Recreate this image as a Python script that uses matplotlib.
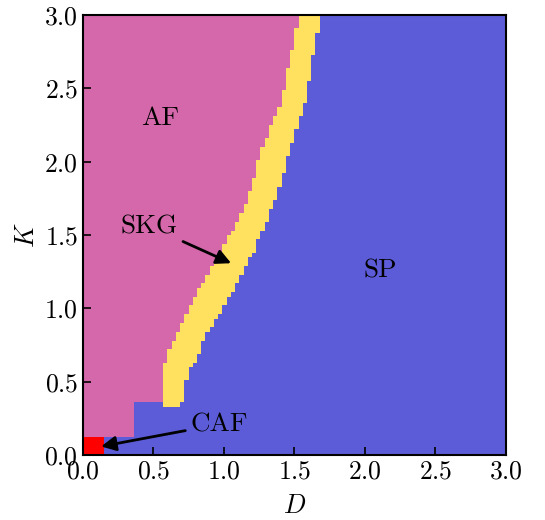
import numpy as np
import matplotlib
matplotlib.use("Agg")
import matplotlib.pyplot as plt
from matplotlib.colors import ListedColormap

plt.rcParams['font.family'] = 'serif'
plt.rcParams['font.serif'] = ['cmr10']
plt.rcParams['mathtext.fontset'] = 'cm'
plt.rcParams['axes.formatter.use_mathtext'] = True

# phase boundaries: K, left edge of SKG, right edge of SKG
K_knots = [0.33, 0.45, 0.56, 0.66, 0.77, 0.90, 1.06, 1.40, 1.74, 2.08, 2.42, 3.00]
D_left = [0.56, 0.56, 0.56, 0.59, 0.64, 0.70, 0.78, 0.99, 1.17, 1.27, 1.41, 1.535]
D_right = [0.70, 0.72, 0.75, 0.81, 0.85, 0.93, 1.03, 1.22, 1.365, 1.47, 1.58, 1.685]
caf_D, caf_K = 0.15, 0.12
block_D, block_K = 0.36, 0.36
phases = ["AF", "SKG", "SP", "CAF"]
colors = ["#d468ab", "#ffe15f", "#5c5cd9", "#ff0000"]

n = 100
edges = np.linspace(0, 3, n + 1)
c = 0.5 * (edges[:-1] + edges[1:])
DD, KK = np.meshgrid(c, c)

left = np.interp(KK, K_knots, D_left)
right = np.interp(KK, K_knots, D_right)
phase = np.full(DD.shape, 2)
phase[(DD < left)] = 0
phase[(DD >= left) & (DD < right) & (KK >= K_knots[0])] = 1
phase[(KK < K_knots[0]) & (DD < block_D)] = 0
phase[(KK < block_K) & (DD >= block_D) & (phase != 1)] = 2
phase[KK < caf_K] = 2
phase[(KK < caf_K) & (DD < caf_D)] = 3

fig, ax = plt.subplots(figsize=(5.45, 5.2), dpi=100)
fig.subplots_adjust(left=0.152, right=0.928, bottom=0.125, top=0.971)
ax.pcolormesh(edges, edges, phase, cmap=ListedColormap(colors), vmin=-0.5, vmax=3.5)

ax.set_xlim(0, 3)
ax.set_ylim(0, 3)
ax.set_xticks(np.arange(0, 3.01, 0.5))
ax.set_yticks(np.arange(0, 3.01, 0.5))
ax.tick_params(direction='in', length=6, width=1.2, labelsize=18.5)
for s in ax.spines.values():
    s.set_linewidth(1.5)
ax.set_xlabel('$D$', fontsize=19, labelpad=8)
ax.set_ylabel('$K$', fontsize=19, labelpad=4)

ax.text(0.55, 2.30, 'AF', fontsize=19.5, ha='center', va='center')
ax.text(2.11, 1.26, 'SP', fontsize=19.5, ha='center', va='center')
arrow = dict(arrowstyle='-|>', color='black', lw=2, mutation_scale=22)
ax.annotate('SKG', xy=(1.07, 1.30), xytext=(0.47, 1.56), fontsize=19.5,
            ha='center', va='center', arrowprops=arrow)
ax.annotate('CAF', xy=(0.11, 0.055), xytext=(0.97, 0.21), fontsize=19.5,
            ha='center', va='center', arrowprops=arrow)

fig.savefig('out.png', dpi=100)
